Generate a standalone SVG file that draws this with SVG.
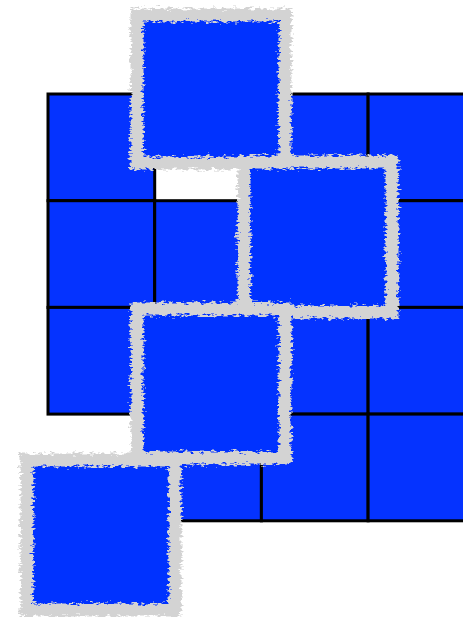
<svg xmlns="http://www.w3.org/2000/svg" width="463" height="617" viewBox="0 0 463 617">
  <defs>
    <style>
      .cell { fill: #0533FF; stroke: #000000; stroke-width: 3; }
      .rough { fill: #0533FF; stroke: #D3D3D3; stroke-width: 13; }
    </style>
    <filter id="chalk" x="-15%" y="-15%" width="130%" height="130%">
      <feTurbulence type="fractalNoise" baseFrequency="0.18 0.45" numOctaves="3" seed="4" result="noise"/>
      <feDisplacementMap in="SourceGraphic" in2="noise" scale="10" xChannelSelector="R" yChannelSelector="G"/>
    </filter>
  </defs>
  <rect width="463" height="617" fill="#FFFFFF"/>
  <g id="grid">
    <rect class="cell" x="48" y="94" width="106.7" height="106.7"/>
    <rect class="cell" x="261.4" y="94" width="106.7" height="106.7"/>
    <rect class="cell" x="368.1" y="94" width="106.7" height="106.7"/>
    <rect class="cell" x="48" y="200.7" width="106.7" height="106.7"/>
    <rect class="cell" x="154.7" y="200.7" width="106.7" height="106.7"/>
    <rect class="cell" x="261.4" y="200.7" width="106.7" height="106.7"/>
    <rect class="cell" x="368.1" y="200.7" width="106.7" height="106.7"/>
    <rect class="cell" x="48" y="307.4" width="106.7" height="106.7"/>
    <rect class="cell" x="154.7" y="307.4" width="106.7" height="106.7"/>
    <rect class="cell" x="261.4" y="307.4" width="106.7" height="106.7"/>
    <rect class="cell" x="368.1" y="307.4" width="106.7" height="106.7"/>
    <rect class="cell" x="154.7" y="414.1" width="106.7" height="106.7"/>
    <rect class="cell" x="261.4" y="414.1" width="106.7" height="106.7"/>
    <rect class="cell" x="368.1" y="414.1" width="106.7" height="106.7"/>
  </g>
  <g id="square1" filter="url(#chalk)">
    <rect class="rough" x="137" y="15" width="148" height="148"/>
  </g>
  <g id="square2" filter="url(#chalk)">
    <rect class="rough" x="244" y="162" width="148" height="150"/>
  </g>
  <g id="square3" filter="url(#chalk)">
    <rect class="rough" x="137" y="309" width="148" height="149"/>
  </g>
  <g id="square4" filter="url(#chalk)">
    <rect class="rough" x="27" y="460" width="148" height="150"/>
  </g>
</svg>
